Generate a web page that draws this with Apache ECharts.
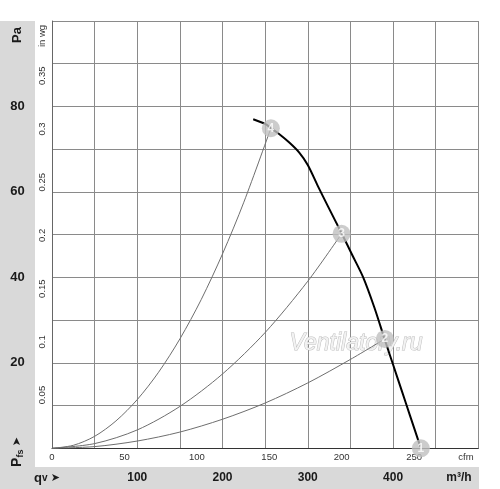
<!DOCTYPE html>
<html>
<head>
<meta charset="utf-8">
<script src="https://cdn.jsdelivr.net/npm/echarts@6/dist/echarts.min.js"></script>
<style>
html,body{margin:0;padding:0;background:#fff;}
#chart{width:500px;height:489px;}
</style>
</head>
<body>
<div id="chart"></div>
<script>
// Fan curve (m³/h, Pa)
const fanQ  = [236, 250, 257, 266, 278, 290, 300, 312, 324, 340, 352, 365, 378, 390, 400, 410, 420, 432];
const fanPa = [77.0, 75.9, 74.9, 73.6, 71.6, 69.2, 66.3, 61.3, 56.5, 50.2, 45.3, 40.0, 33.0, 25.6, 19.6, 13.6, 7.6, 0.4];
// System curves
const sys4Q  = [0, 25, 50, 75, 100, 125, 150, 175, 200, 225, 256.7];
const sys4Pa = [0, 0.7, 2.8, 6.4, 11.4, 17.8, 25.6, 34.8, 45.5, 57.6, 74.9];
const sys3Q  = [0, 50, 100, 150, 200, 250, 300, 339.6];
const sys3Pa = [0, 1.1, 4.3, 9.8, 17.4, 27.1, 39.1, 50.2];
const sys2Q  = [0, 50, 100, 150, 200, 250, 300, 350, 390.4];
const sys2Pa = [0, 0.4, 1.7, 3.8, 6.8, 10.6, 15.3, 20.8, 25.6];
// Operating points
const opQ = [432.6, 390.4, 339.6, 256.7];
const opPa = [0, 25.6, 50.2, 74.9];
const opLabels = ['1', '2', '3', '4'];
// Tick labels
const m3hLabels = [100, 200, 300, 400];
const cfmLabels = [0, 50, 100, 150, 200, 250];
const paLabels = [20, 40, 60, 80];
const inwgLabels = ['0.05', '0.1', '0.15', '0.2', '0.25', '0.3', '0.35'];

const M3H_PER_CFM = 1.699;
const PA_PER_INWG = 249.09;

const zip = (a, b) => a.map((v, i) => [v, b[i]]);
const near = (v, list) => list.some(x => Math.abs(Number(x) - v) < 1e-6);

const chart = echarts.init(document.getElementById('chart'), null, {renderer: 'canvas'});
const FONT = '"Liberation Sans", Arial, sans-serif';

const option = {
  animation: false,
  backgroundColor: '#fff',
  grid: {left: 52, top: 21, right: 21.7, bottom: 40.7, containLabel: false},
  xAxis: [
    {
      type: 'value', min: 0, max: 500, interval: 50, position: 'bottom',
      axisLine: {show: true, lineStyle: {color: '#333', width: 1}},
      axisTick: {show: false},
      splitLine: {show: true, lineStyle: {color: '#8a8a8a', width: 1}},
      axisLabel: {
        margin: 23, fontFamily: FONT, fontSize: 12, fontWeight: 'bold', color: '#1a1a1a',
        formatter: v => near(v, m3hLabels) ? String(v) : ''
      }
    },
    {
      type: 'value', min: 0, max: 500 / M3H_PER_CFM, interval: 50, position: 'bottom',
      axisLine: {show: false}, axisTick: {show: false}, splitLine: {show: false},
      axisLabel: {
        margin: 4, fontFamily: FONT, fontSize: 9.5, color: '#333',
        formatter: v => near(v, cfmLabels) ? String(v) : ''
      }
    }
  ],
  yAxis: [
    {
      type: 'value', min: 0, max: 100, interval: 10, position: 'left',
      axisLine: {show: true, lineStyle: {color: '#666', width: 1}},
      axisTick: {show: false},
      splitLine: {show: true, lineStyle: {color: '#8a8a8a', width: 1}},
      axisLabel: {
        margin: 34.5, align: 'center', fontFamily: FONT, fontSize: 13, fontWeight: 'bold', color: '#1a1a1a',
        formatter: v => near(v, paLabels) ? String(v) : ''
      }
    },
    {
      type: 'value', min: 0, max: 100 / PA_PER_INWG, interval: 0.05, position: 'left',
      axisLine: {show: false}, axisTick: {show: false}, splitLine: {show: false},
      axisLabel: {
        margin: 5, rotate: 90, fontFamily: FONT, fontSize: 9.5, color: '#333',
        formatter: v => {
          const s = String(parseFloat(v.toFixed(2)));
          return inwgLabels.indexOf(s) >= 0 ? s : '';
        }
      }
    }
  ],
  graphic: [
    {type: 'rect', z: -10, silent: true, shape: {x: 0, y: 21, width: 35, height: 468}, style: {fill: '#d9d9d9'}},
    {type: 'rect', z: -10, silent: true, shape: {x: 0, y: 467, width: 479, height: 22}, style: {fill: '#d9d9d9'}},
    {type: 'text', z: 5, x: 17.5, y: 35, rotation: Math.PI / 2,
      style: {text: 'Pa', fontFamily: FONT, fontSize: 13, fontWeight: 'bold', fill: '#1a1a1a', align: 'center', verticalAlign: 'middle'}},
    {type: 'text', z: 5, x: 42, y: 36, rotation: Math.PI / 2,
      style: {text: 'in wg', fontFamily: FONT, fontSize: 9.5, fill: '#333', align: 'center', verticalAlign: 'middle'}},
    {type: 'text', z: 5, x: 17.5, y: 452, rotation: Math.PI / 2,
      style: {
        text: '{p|P}{s|fs} {a|➤}', align: 'center', verticalAlign: 'middle',
        rich: {
          p: {fontFamily: FONT, fontSize: 14, fontWeight: 'bold', fill: '#1a1a1a'},
          s: {fontFamily: FONT, fontSize: 9, fontWeight: 'bold', fill: '#1a1a1a', verticalAlign: 'bottom', padding: [6, 0, 0, 0]},
          a: {fontFamily: '"DejaVu Sans", sans-serif', fontSize: 11, fill: '#1a1a1a'}
        }
      }},
    {type: 'text', z: 5, x: 47, y: 478,
      style: {
        text: '{q|q}{v|v} {a|➤}', align: 'center', verticalAlign: 'middle',
        rich: {
          q: {fontFamily: FONT, fontSize: 13, fontWeight: 'bold', fill: '#1a1a1a'},
          v: {fontFamily: FONT, fontSize: 10, fontWeight: 'bold', fill: '#1a1a1a'},
          a: {fontFamily: '"DejaVu Sans", sans-serif', fontSize: 11, fill: '#1a1a1a'}
        }
      }},
    {type: 'text', z: 5, x: 466, y: 457,
      style: {text: 'cfm', fontFamily: FONT, fontSize: 9.5, fill: '#333', align: 'center', verticalAlign: 'middle'}},
    {type: 'text', z: 5, x: 459, y: 478,
      style: {text: 'm³/h', fontFamily: FONT, fontSize: 12, fontWeight: 'bold', fill: '#1a1a1a', align: 'center', verticalAlign: 'middle'}},
    {type: 'text', z: 1, x: 356, y: 344,
      style: {
        text: 'Ventilatory.ru', fontFamily: FONT, fontSize: 23, fontStyle: 'italic',
        fill: '#f2f2f2', stroke: '#bdbdbd', lineWidth: 1, align: 'center', verticalAlign: 'middle'
      }}
  ],
  series: [
    {type: 'line', name: 'sys4', xAxisIndex: 0, yAxisIndex: 0, data: zip(sys4Q, sys4Pa), smooth: 0.3,
      showSymbol: false, symbol: 'none', lineStyle: {color: '#6e6e6e', width: 1}, z: 3},
    {type: 'line', name: 'sys3', xAxisIndex: 0, yAxisIndex: 0, data: zip(sys3Q, sys3Pa), smooth: 0.3,
      showSymbol: false, symbol: 'none', lineStyle: {color: '#6e6e6e', width: 1}, z: 3},
    {type: 'line', name: 'sys2', xAxisIndex: 0, yAxisIndex: 0, data: zip(sys2Q, sys2Pa), smooth: 0.3,
      showSymbol: false, symbol: 'none', lineStyle: {color: '#6e6e6e', width: 1}, z: 3},
    {type: 'line', name: 'fan', xAxisIndex: 0, yAxisIndex: 0, data: zip(fanQ, fanPa), smooth: 0.3,
      showSymbol: false, symbol: 'none', lineStyle: {color: '#000', width: 2}, z: 4},
    {type: 'scatter', name: 'points', xAxisIndex: 0, yAxisIndex: 0, clip: false,
      data: opQ.map((q, i) => ({value: [q, opPa[i]], label: {formatter: opLabels[i]}})),
      symbol: 'circle', symbolSize: 18, itemStyle: {color: '#bfbfbf'}, z: 6,
      label: {show: true, position: 'inside', color: '#fff', fontFamily: FONT, fontSize: 12, fontWeight: 'bold'}}
  ]
};
chart.setOption(option);
</script>
</body>
</html>
